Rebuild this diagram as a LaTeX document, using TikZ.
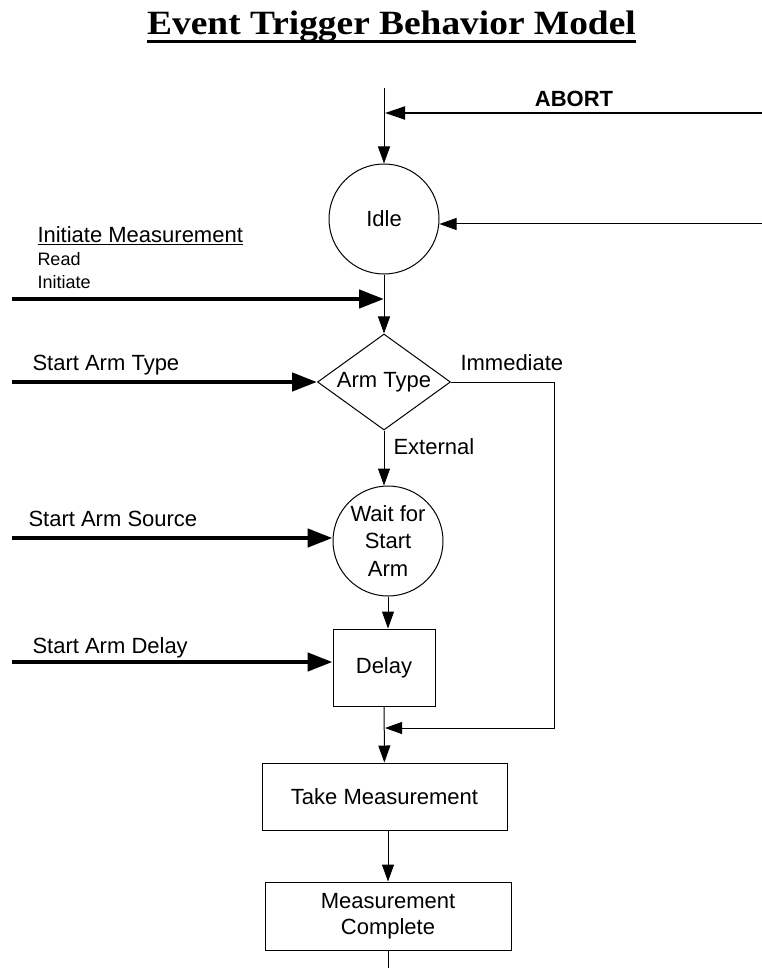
\documentclass[tikz,border=0pt]{standalone}
\usepackage{fontspec}
\usepackage{graphicx}
\setmainfont{Liberation Sans}
\newfontfamily\titlefont{Liberation Serif}
\usetikzlibrary{arrows.meta,shapes.geometric}

\begin{document}
\begin{tikzpicture}[x=1pt,y=-1pt,line width=1pt,
      flowarrow/.style={-{Triangle[length=17pt,width=12pt]}},
      abortarrow/.style={line width=2pt,-{Triangle[length=20pt,width=13pt]}},
      inarrow/.style={line width=4.5pt,-{Triangle[length=25pt,width=18pt]}},
      statenode/.style={draw,circle,minimum size=110pt,inner sep=0pt,align=center,font=\fontsize{22}{27.5}\selectfont},
      boxnode/.style={draw,rectangle,inner sep=0pt,align=center,font=\fontsize{22}{26}\selectfont},
      lbl/.style={anchor=base west,inner sep=0pt,font=\fontsize{22}{26}\selectfont},
      smalllbl/.style={lbl,font=\fontsize{18}{22}\selectfont}]
    	\useasboundingbox (0,0) rectangle (762,968);

      \node[anchor=base,inner sep=0pt] (title) at (391.5,35) {\titlefont\bfseries\fontsize{34}{40}\selectfont\scalebox{1.1}[1]{Event Trigger Behavior Model}};
      \draw[line width=3pt] ([yshift=-7pt]title.base west) -- ([yshift=-7pt]title.base east);

      \node[statenode] (idle) at (384,219) {Idle};
      \node[draw,diamond,aspect=1.4,minimum width=133pt,minimum height=96pt,inner sep=0pt,font=\fontsize{22}{26}\selectfont] (armtype) at (384,382) {Arm Type};
      \node[statenode] (wait) at (388,541) {Wait for\\Start\\Arm};
      \node[boxnode,minimum width=102pt,minimum height=77pt] (delay) at (384,667.5) {Delay};
      \node[boxnode,minimum width=245pt,minimum height=67pt] (take) at (384.5,796.5) {Take Measurement};
      \node[boxnode,minimum width=246pt,minimum height=68pt] (done) at (388,916) {Measurement\\Complete};

      \coordinate (top) at (384,88);
      \coordinate (abortsrc) at (762,113);
      \coordinate (abortjoin) at (385,113);
      \coordinate (idlesrc) at (762,224);
      \coordinate (initsrc) at (12,299);
      \coordinate (initjoin) at (384,299);
      \coordinate (typesrc) at (12,382);
      \coordinate (armsrc) at (12,538);
      \coordinate (delaysrc) at (12,662);
      \coordinate (immcorner) at (554,728);
      \coordinate (immjoin) at (385,728);
      \coordinate (bottom) at (388,968);

      \draw[flowarrow] (top) -- (idle);
      \draw[abortarrow] (abortsrc) -- (abortjoin);
      \draw[flowarrow] (idlesrc) -- (idlesrc -| idle.east);
      \draw[flowarrow] (idle) -- (armtype);
      \draw[inarrow] (initsrc) -- (initjoin);
      \draw[inarrow] (typesrc) -- (armtype.west);
      \draw[flowarrow] (armtype) -- (armtype |- wait.north);
      \draw[inarrow] (armsrc) -- (armsrc -| wait.west);
      \draw[flowarrow] (wait) -- (wait |- delay.north);
      \draw[inarrow] (delaysrc) -- (delaysrc -| delay.west);
      \draw[flowarrow] (delay) -- (take);
      \draw[flowarrow] (armtype.east) -| (immcorner) -- (immjoin);
      \draw[flowarrow] (done |- take.south) -- (done);
      \draw (done) -- (bottom);

      \node[lbl,anchor=base,font=\bfseries\fontsize{22}{26}\selectfont] (abortlbl) at (574,106.7) {ABORT};
      \node[lbl] (immlbl) at (460,370) {Immediate};
      \node[lbl] (extlbl) at (393,454) {External};
      \node[lbl] (initlbl) at (37,243) {\underline{Initiate Measurement}};
      \node[smalllbl] (readlbl) at (37,265) {Read};
      \node[smalllbl] (initiatelbl) at (37,288) {Initiate};
      \node[lbl] (typelbl) at (32,370.7) {Start Arm Type};
      \node[lbl] (srclbl) at (28,526) {Start Arm Source};
      \node[lbl] (delaylbl) at (32,653) {Start Arm Delay};
    \end{tikzpicture}
\end{document}
